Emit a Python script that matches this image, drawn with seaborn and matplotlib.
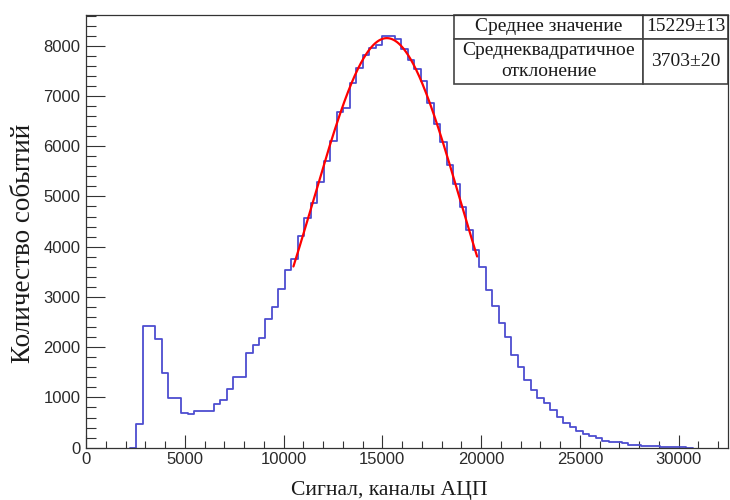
import numpy as np
import pandas as pd
import matplotlib
matplotlib.use("Agg")
import matplotlib.pyplot as plt
from matplotlib.ticker import MultipleLocator
import seaborn as sns

# ADC spectrum: counts per bin, bins of equal width starting at bin_lo
bin_lo = 2533.0 - 327.68
bin_width = 327.68
counts = [
    0,
    472, 2428, 2428, 2163, 1487, 989, 989, 697, 665, 736,
    736, 736, 864, 949, 1162, 1413, 1413, 1879, 2044, 2177,
    2555, 2806, 3152, 3536, 3749, 4213, 4577, 4864, 5294, 5705,
    6103, 6687, 6754, 7252, 7550, 7815, 7948, 8014, 8193, 8193,
    8130, 7930, 7720, 7530, 7300, 6860, 6450, 6080, 5620, 5250,
    4780, 4330, 3930, 3602, 3138, 2820, 2488, 2209, 1845, 1612,
    1347, 1148, 983, 896, 750, 605, 498, 406, 338, 271,
    233, 187, 139, 113, 113, 88, 54, 54, 34, 34,
    34, 20, 20, 14, 14,
    0,
]

# Gaussian fit parameters
fit_mean, fit_mean_err = 15229, 13
fit_sigma, fit_sigma_err = 3703, 20
fit_amplitude = 8150
fit_lo, fit_hi = 10500, 19800

row_labels = ["Среднее значение", "Среднеквадратичное\nотклонение"]
x_title = "Сигнал, каналы АЦП"
y_title = "Количество событий"

sns.set_style("ticks")
plt.rcParams["font.family"] = ["Liberation Sans", "DejaVu Sans"]
serif = ["Liberation Serif", "DejaVu Serif"]

W, H = 730, 500
fig = plt.figure(figsize=(W / 100, H / 100), dpi=100)
ax_l, ax_r, ax_t, ax_b = 86, 728, 15, 447.7
ax = fig.add_axes([ax_l / W, 1 - ax_b / H, (ax_r - ax_l) / W, (ax_b - ax_t) / H])

edges = bin_lo + bin_width * np.arange(len(counts) + 1)
spectrum = pd.DataFrame({"channel": 0.5 * (edges[:-1] + edges[1:]), "n": counts})
sns.histplot(data=spectrum, x="channel", weights="n", bins=edges.tolist(),
             element="step", fill=False, color="#4d4dd0", linewidth=1.3, ax=ax)

fit_x = np.linspace(fit_lo, fit_hi, 300)
fit_y = fit_amplitude * np.exp(-0.5 * ((fit_x - fit_mean) / fit_sigma) ** 2)
sns.lineplot(x=fit_x, y=fit_y, color="#ff0000", linewidth=1.6, ax=ax)

ax.set_xlim(0, 32500)
ax.set_ylim(0, 8610)
ax.xaxis.set_major_locator(MultipleLocator(5000))
ax.xaxis.set_minor_locator(MultipleLocator(1000))
ax.yaxis.set_major_locator(MultipleLocator(1000))
ax.yaxis.set_minor_locator(MultipleLocator(200))

ax.tick_params(which="both", direction="in", color="#333333", width=0.8,
               labelsize=12, labelcolor="#2a2a2a")
ax.tick_params(axis="x", which="major", length=9.4, pad=3)
ax.tick_params(axis="x", which="minor", length=5)
ax.tick_params(axis="y", which="major", length=13.7, pad=4)
ax.tick_params(axis="y", which="minor", length=7.2)
for s in ax.spines.values():
    s.set_color("#333333")
    s.set_linewidth(0.9)

ax.set_xlabel(x_title, fontfamily=serif, fontsize=15.6, color="#1a1a1a")
ax.set_ylabel(y_title, fontfamily=serif, fontsize=19.5, color="#1a1a1a")
ax.xaxis.set_label_coords(0.472, -0.098)
ax.yaxis.set_label_coords(-0.098, 0.472)
ax.xaxis.label.set_va("center")
ax.yaxis.label.set_va("center")

cell_text = [[row_labels[0], f"{fit_mean}±{fit_mean_err}"],
             [row_labels[1], f"{fit_sigma}±{fit_sigma_err}"]]
tab_l, tab_b = 454, 84.3
bbox = [(tab_l - ax_l) / (ax_r - ax_l), (ax_b - tab_b) / (ax_b - ax_t),
        (ax_r - tab_l) / (ax_r - ax_l), (tab_b - ax_t) / (ax_b - ax_t)]
table = ax.table(cellText=cell_text, colWidths=[189, 85], cellLoc="center", bbox=bbox)
table.auto_set_font_size(False)
table.set_fontsize(14)
row_h = [23.3, 45.3]
for (r, c), cell in table.get_celld().items():
    cell.set_height(row_h[r])
    cell.set_edgecolor("#444444")
    cell.set_linewidth(1.2)
    cell.set_facecolor("white")
    cell.get_text().set_fontfamily(serif)
    cell.get_text().set_color("#1a1a1a")
    cell.get_text().set_linespacing(1.3)

fig.savefig("out.png", dpi=100)
